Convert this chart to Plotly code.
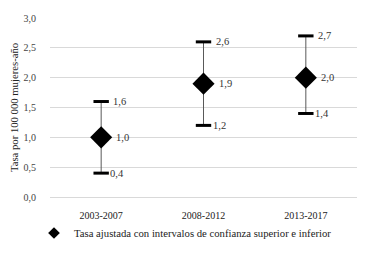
import plotly.graph_objects as go

periods = ["2003-2007", "2008-2012", "2013-2017"]
rate = [1.0, 1.9, 2.0]
upper = [1.6, 2.6, 2.7]
lower = [0.4, 1.2, 1.4]
legend_name = "Tasa ajustada con intervalos de confianza superior e inferior"
y_title = "Tasa por 100 000 mujeres-año"

def fmt(v):
    return f"{v:.1f}".replace(".", ",")

FONT = "Liberation Serif, Times New Roman, serif"

fig = go.Figure()

# vertical interval lines
fig.add_trace(go.Scatter(
    x=periods, y=rate, mode="markers", marker=dict(size=0.1, color="rgba(0,0,0,0)"),
    error_y=dict(type="data", symmetric=False,
                 array=[u - r for u, r in zip(upper, rate)],
                 arrayminus=[r - l for r, l in zip(rate, lower)],
                 color="#595959", thickness=1, width=0),
    showlegend=False, hoverinfo="skip"))

# caps
fig.add_trace(go.Scatter(
    x=periods + periods, y=upper + lower, mode="markers",
    marker=dict(symbol="line-ew", size=11, line=dict(color="black", width=3)),
    showlegend=False, hoverinfo="skip"))

# diamonds
fig.add_trace(go.Scatter(
    x=periods, y=rate, mode="markers",
    marker=dict(symbol="diamond", size=17, color="black"),
    showlegend=False))

# legend entry
fig.add_trace(go.Scatter(
    x=[None], y=[None], mode="markers", name=legend_name,
    marker=dict(symbol="diamond", size=9, color="black")))

for p, r, u, l in zip(periods, rate, upper, lower):
    for v, sh in ((u, 10), (r, 13), (l, 7)):
        fig.add_annotation(x=p, y=v, text=fmt(v), showarrow=False,
                           xanchor="left", yanchor="middle", xshift=sh,
                           font=dict(family=FONT, size=10.5, color="#333"))

fig.update_layout(
    width=371, height=258,
    margin=dict(l=50, r=14, t=18, b=61, autoexpand=False),
    paper_bgcolor="white", plot_bgcolor="white",
    font=dict(family=FONT, size=10, color="#333"),
    showlegend=True,
    legend=dict(orientation="h", x=0.5, xanchor="center", xref="container",
                y=(258 - 233) / 258, yanchor="middle", yref="container",
                font=dict(family=FONT, size=10.7, color="#222"),
                itemwidth=30, tracegroupgap=0),
    xaxis=dict(type="category", range=[-0.5, 2.5], showgrid=False, zeroline=False,
               showline=False, ticks="", ticklabelstandoff=11, automargin=False,
               tickfont=dict(family=FONT, size=10, color="#222")),
    yaxis=dict(range=[0, 3.0], dtick=0.5, tickformat=".1f",
               showgrid=True, gridcolor="#d9d9d9", gridwidth=1,
               zeroline=True, zerolinecolor="#d9d9d9", zerolinewidth=1,
               showline=False, ticks="", ticklabelstandoff=13, automargin=False,
               title=dict(text=y_title, font=dict(family=FONT, size=10.7, color="#222"), standoff=2),
               tickfont=dict(family=FONT, size=10, color="#444")),
    separators=", ",
)

fig.write_html("out.html", config={"displayModeBar": False},
               post_script="document.body.style.margin='0';document.body.style.overflow='hidden';")
